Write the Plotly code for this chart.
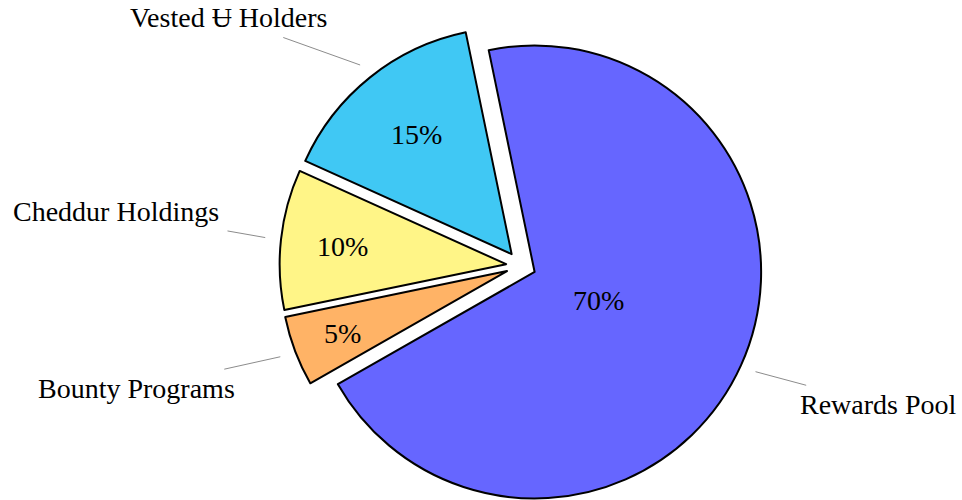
import math
import plotly.graph_objects as go

# ---- data ----
labels = ["Rewards Pool", "Bounty Programs", "Cheddur Holdings", "Vested Ʉ Holders"]
values = [70, 5, 10, 15]
pct_text = ["70%", "5%", "10%", "15%"]
colors = ["#6666ff", "#ffb366", "#fff587", "#40c8f4"]

# ---- geometry / style ----
W, H = 962, 500
CX, CY = 521.0, 265.8      # pie centre (px)
R = 226.5                  # radius (px)
PULL = 0.066               # explode fraction of radius
START = 348.3              # compass angle where first slice starts
FONT = "Liberation Serif, DejaVu Serif, serif"
FS = 28

PCT_R = [0.31, 0.778, 0.727, 0.674]
LABEL_R = [1.629, 1.717, 1.737, 1.627]
LABEL_ANG = [111.1, 252.4, 277.7, 309.85]
LABEL_W = [159, 203, 209, 199]
LINE_START_R = 1.07

total = sum(values)
mids = []
acc = 0
for v in values:
    mids.append(START + 360.0 * (acc + v / 2.0) / total)
    acc += v


def unit(a):
    r = math.radians(a)
    return math.sin(r), -math.cos(r)


def px(x, y):
    return x / W, 1 - y / H


fig = go.Figure()
annotations = []
shapes = []
n = len(values)
for i in range(n):
    ux, uy = unit(mids[i])
    cx = CX + PULL * R * ux
    cy = CY + PULL * R * uy
    fig.add_trace(go.Pie(
        values=values,
        labels=labels,
        sort=False,
        direction="clockwise",
        rotation=START - 360,
        domain=dict(x=[(cx - R) / W, (cx + R) / W], y=[1 - (cy + R) / H, 1 - (cy - R) / H]),
        marker=dict(colors=[colors[j] if j == i else "rgba(0,0,0,0)" for j in range(n)],
                    line=dict(color="black", width=[2 if j == i else 0 for j in range(n)])),
        textinfo="none",
        hoverinfo="skip",
        showlegend=False,
    ))
    # percentage inside slice
    qx, qy = px(cx + PCT_R[i] * R * ux, cy + PCT_R[i] * R * uy)
    annotations.append(dict(text=pct_text[i], x=qx, y=qy, xref="paper", yref="paper",
                            xanchor="center", yanchor="middle", showarrow=False,
                            font=dict(family=FONT, size=FS, color="black")))
    # label
    lx, ly = unit(LABEL_ANG[i])
    tx = cx + LABEL_R[i] * R * lx
    ty = cy + LABEL_R[i] * R * ly
    ax_, ay_ = px(tx, ty)
    annotations.append(dict(text=labels[i], x=ax_, y=ay_, xref="paper", yref="paper",
                            xanchor="center", yanchor="middle", showarrow=False,
                            font=dict(family=FONT, size=FS, color="black")))
    # leader line
    sx = cx + LINE_START_R * R * ux
    sy = cy + LINE_START_R * R * uy
    dx, dy = sx - tx, sy - ty
    hw = LABEL_W[i] / 2 + 7
    hh = 19.5
    t = min(hw / abs(dx) if dx else 1e9, hh / abs(dy) if dy else 1e9)
    ex, ey = tx + t * dx, ty + t * dy
    x0, y0 = px(sx, sy)
    x1, y1 = px(ex, ey)
    shapes.append(dict(type="line", xref="paper", yref="paper", x0=x0, y0=y0, x1=x1, y1=y1,
                       line=dict(color="rgb(140,140,140)", width=1)))

fig.update_layout(
    width=W, height=H,
    margin=dict(l=0, r=0, t=0, b=0),
    paper_bgcolor="white", plot_bgcolor="white",
    annotations=annotations, shapes=shapes,
    font=dict(family=FONT, size=FS, color="black"),
)
fig.write_html("out.html",
               config={"displayModeBar": False},
               post_script="document.body.style.margin='0';document.body.style.overflow='hidden';")
